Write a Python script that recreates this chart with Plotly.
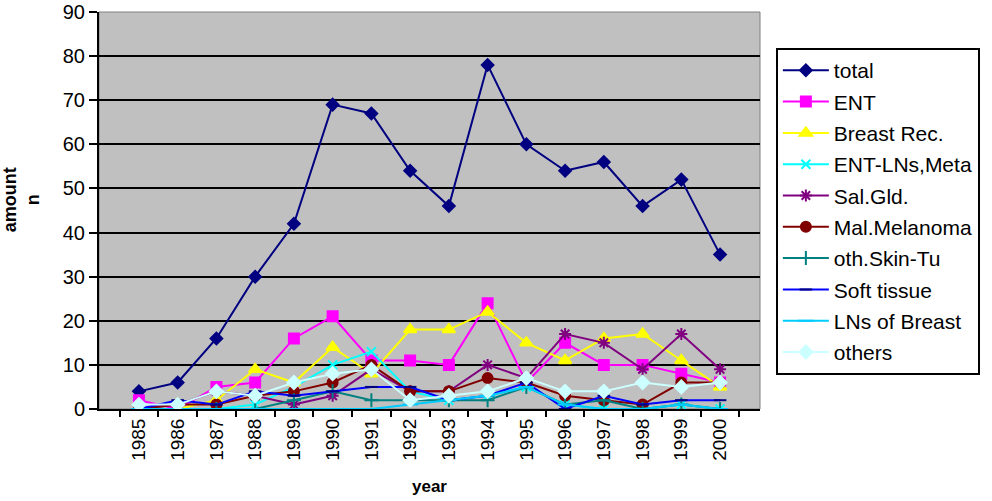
import plotly.graph_objects as go

years = [str(y) for y in range(1985, 2001)]

total = [4, 6, 16, 30, 42, 69, 67, 54, 46, 78, 60, 54, 56, 46, 52, 35]
ent = [2, 0, 5, 6, 16, 21, 11, 11, 10, 24, 6, 15, 10, 10, 8, 6]
breast_rec = [0, 0, 2, 9, 6, 14, 8, 18, 18, 22, 15, 11, 16, 17, 11, 5]
ent_lns_meta = [0, 0, 0, 1, 5, 10, 13, 4, 2, 3, 5, 1, 0, 0, 1, 0]
sal_gld = [0, 1, 4, 3, 1, 3, 9, 4, 4, 10, 7, 17, 15, 9, 17, 9]
mal_melanoma = [0, 1, 1, 3, 4, 6, 10, 4, 4, 7, 6, 3, 2, 1, 6, 6]
oth_skin_tu = [0, 0, 0, 0, 2, 4, 2, 2, 2, 2, 5, 1, 2, 0, 1, 0]
soft_tissue = [0, 2, 1, 4, 3, 4, 5, 5, 2, 3, 6, 0, 3, 1, 2, 2]
lns_of_breast = [0, 0, 0, 0, 0, 0, 0, 1, 2, 3, 5, 1, 0, 0, 1, 0]
others = [1, 1, 4, 3, 6, 8, 9, 2, 3, 4, 7, 4, 4, 6, 5, 6]

# name, values, line colour, marker symbol, marker colour, marker size
series = [
    ("total", total, "#000080", "diamond", "#000080", 9),
    ("ENT", ent, "#FF00FF", "square", "#FF00FF", 10),
    ("Breast Rec.", breast_rec, "#FFFF00", "triangle-up", "#FFFF00", 11),
    ("ENT-LNs,Meta", ent_lns_meta, "#00FFFF", "x-thin", "#00FFFF", 9),
    ("Sal.Gld.", sal_gld, "#800080", "asterisk", "#800080", 10),
    ("Mal.Melanoma", mal_melanoma, "#800000", "circle", "#800000", 10),
    ("oth.Skin-Tu", oth_skin_tu, "#008080", "cross-thin", "#008080", 10),
    ("Soft tissue", soft_tissue, "#0000FF", "line-ew", "#000080", 9),
    ("LNs of Breast", lns_of_breast, "#00CCFF", "line-ew", "#00CCFF", 11),
    ("others", others, "#CCFFFF", "diamond", "#CCFFFF", 10),
]

fig = go.Figure()

for name, vals, lc, sym, mc, ms in series:
    fig.add_trace(go.Scatter(
        x=years,
        y=vals,
        name=name,
        legendgroup=name,
        mode="lines+markers",
        line=dict(color=lc, width=2),
        marker=dict(symbol=sym, color=mc, size=ms,
                    line=dict(color=mc, width=2)),
    ))

# thin grey frame round the plot area
fig.add_shape(type="rect", xref="x domain", yref="y domain",
              x0=0, x1=1, y0=0, y1=1,
              line=dict(color="#808080", width=1), layer="below")

# y title as annotation so it can sit further left
fig.add_annotation(
    text="<b>amount<br>n</b>", textangle=-90,
    xref="paper", yref="paper", x=0, y=0.526,
    xanchor="center", yanchor="middle", xshift=-78,
    showarrow=False, font=dict(size=18),
)

fig.update_layout(
    width=992,
    height=501,
    margin=dict(l=99, r=214, t=12, b=92),
    paper_bgcolor="white",
    plot_bgcolor="#C0C0C0",
    font=dict(family="Liberation Sans, Arial", color="black", size=18),
    showlegend=True,
    legend=dict(
        x=1.024, y=0.909, xanchor="left", yanchor="top",
        bgcolor="white", bordercolor="black", borderwidth=2,
        font=dict(size=21),
        tracegroupgap=1,
        itemwidth=46,
    ),
    xaxis=dict(
        type="category",
        tickson="boundaries",
        ticks="outside", ticklen=6, tickcolor="black", tickwidth=2,
        tickangle=-90,
        tickfont=dict(size=19),
        ticklabeloverflow="allow",
        showline=True, linecolor="black", linewidth=2,
        showgrid=False,
        title=dict(text="<b>year</b>", font=dict(size=17), standoff=20),
        automargin=False,
    ),
    yaxis=dict(
        range=[0, 90],
        dtick=10,
        ticks="outside", ticklen=8, tickcolor="black", tickwidth=2,
        tickfont=dict(size=20),
        ticklabeloverflow="allow",
        showline=True, linecolor="black", linewidth=2,
        showgrid=True, gridcolor="black", gridwidth=2,
        zeroline=False,
        automargin=False,
    ),
)

# drop the browser's default 8px body margin so the figure fills the window
fig.write_html("out.html", config={"displayModeBar": False},
               post_script="document.body.style.margin = '0';")
